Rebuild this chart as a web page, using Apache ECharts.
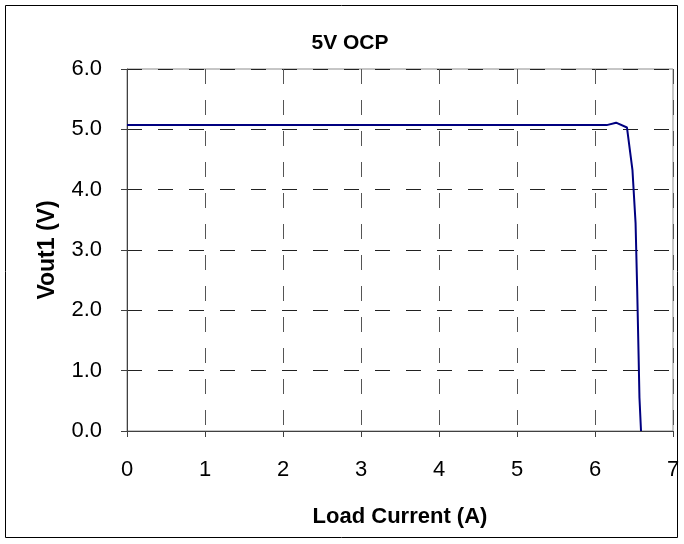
<!DOCTYPE html>
<html>
<head>
<meta charset="utf-8">
<script src="https://cdn.jsdelivr.net/npm/echarts@6/dist/echarts.min.js"></script>
<style>
html,body{margin:0;padding:0;background:#fff;}
#chart{width:684px;height:544px;}
</style>
</head>
<body>
<div id="chart"></div>
<script>
// Data
var loadCurrent = [0, 1, 2, 3, 4, 5, 6, 6.15, 6.27, 6.41, 6.48, 6.52, 6.54, 6.56, 6.57, 6.59];
var vout1       = [5.07, 5.07, 5.07, 5.07, 5.07, 5.07, 5.07, 5.07, 5.11, 5.03, 4.33, 3.45, 2.40, 1.18, 0.55, 0.0];
var xTicks = [0, 1, 2, 3, 4, 5, 6, 7];
var yTicks = [0, 1, 2, 3, 4, 5, 6];
var titleText = '5V OCP';
var xName = 'Load Current (A)';
var yName = 'Vout1 (V)';

var seriesData = loadCurrent.map(function (x, i) { return [x, vout1[i]]; });

var chart = echarts.init(document.getElementById('chart'), null, {renderer: 'canvas'});
var font = 'Liberation Sans, Arial, sans-serif';
var dash = [15, 16];
chart.setOption({
  animation: false,
  backgroundColor: '#fff',
  title: {
    text: titleText,
    left: 345,
    top: 28,
    textAlign: 'center',
    textStyle: {fontFamily: font, fontSize: 21, fontWeight: 'bold', color: '#000'}
  },
  graphic: [{
    type: 'rect',
    shape: {x: 5.5, y: 5.5, width: 672, height: 532},
    style: {fill: 'none', stroke: '#000', lineWidth: 1},
    silent: true
  }],
  grid: {
    left: 127, right: 11, top: 69, bottom: 113,
    show: true, borderColor: '#8c8c8c', borderWidth: 1
  },
  xAxis: {
    type: 'value', min: xTicks[0], max: xTicks[xTicks.length - 1], interval: 1,
    name: xName, nameLocation: 'middle', nameGap: 75,
    nameTextStyle: {fontFamily: font, fontSize: 22, fontWeight: 'bold', color: '#000'},
    axisLine: {show: true, lineStyle: {color: '#404040', width: 1}},
    axisTick: {show: true, length: 6, lineStyle: {color: '#404040'}},
    axisLabel: {margin: 28, fontFamily: font, fontSize: 22, color: '#000'},
    splitLine: {show: true, lineStyle: {color: '#555', type: dash, width: 1}}
  },
  yAxis: {
    type: 'value', min: yTicks[0], max: yTicks[yTicks.length - 1], interval: 1,
    name: yName, nameLocation: 'middle', nameGap: 68, nameRotate: 90,
    nameTextStyle: {fontFamily: font, fontSize: 23, fontWeight: 'bold', color: '#000'},
    axisLine: {show: true, lineStyle: {color: '#404040', width: 1}},
    axisTick: {show: true, length: 6, lineStyle: {color: '#404040'}},
    axisLabel: {margin: 25, fontFamily: font, fontSize: 22, color: '#000',
      formatter: function (v) { return v.toFixed(1); }},
    splitLine: {show: true, lineStyle: {color: '#222', type: dash, width: 1}}
  },
  series: [{
    type: 'line',
    data: seriesData,
    showSymbol: false,
    symbol: 'none',
    lineStyle: {color: '#000080', width: 2},
    z: 5
  }]
});
</script>
</body>
</html>
